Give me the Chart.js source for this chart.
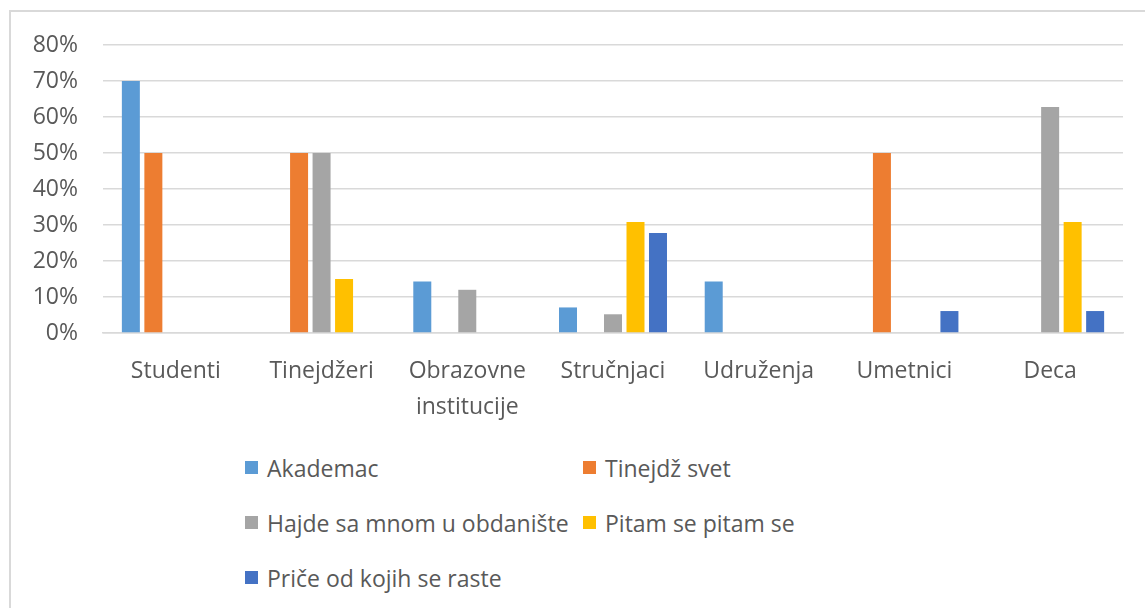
<!DOCTYPE html>
<html>
<head>
<meta charset="utf-8">
<script src="https://cdn.jsdelivr.net/npm/chart.js@4"></script>
<style>
  body { margin: 0; background: #fff; }
  #wrap { position: relative; width: 1145px; height: 608px; overflow: hidden; font-family: "Open Sans", sans-serif; color: #595959; }
  #frame { position: absolute; left: 9px; top: 10px; width: 1200px; height: 700px; border-left: 2px solid #d9d9d9; border-top: 2px solid #d9d9d9; }
  #chartBox { position: absolute; left: 0; top: 0; width: 1145px; height: 440px; }
  #legend { position: absolute; left: 245px; top: 440px; display: grid; grid-template-columns: 338px 300px; grid-auto-rows: 55px; font-size: 23px; }
  .item { display: flex; align-items: center; white-space: nowrap; }
  .box { width: 13px; height: 13px; margin-right: 9px; }
</style>
</head>
<body>
<div id="wrap">
  <div id="frame"></div>
  <div id="chartBox"><canvas id="barChart"></canvas></div>
  <div id="legend"></div>
</div>
<script>
// data (percent)
const categories = ['Studenti', 'Tinejdžeri', ['Obrazovne', 'institucije'], 'Stručnjaci', 'Udruženja', 'Umetnici', 'Deca'];
const akademac = [70, 0, 14.3, 7.1, 14.3, 0, 0];
const tinejdzSvet = [50, 50, 0, 0, 0, 50, 0];
const hajdeSaMnom = [0, 50, 12, 5.2, 0, 0, 62.8];
const pitamSe = [0, 15, 0, 30.8, 0, 0, 30.8];
const priceOdKojih = [0, 0, 0, 27.8, 0, 6.1, 6.1];
const yTicks = [0, 10, 20, 30, 40, 50, 60, 70, 80];

const seriesNames = ['Akademac', 'Tinejdž svet', 'Hajde sa mnom u obdanište', 'Pitam se pitam se', 'Priče od kojih se raste'];
const seriesData = [akademac, tinejdzSvet, hajdeSaMnom, pitamSe, priceOdKojih];
const seriesColors = ['#5B9BD5', '#ED7D31', '#A5A5A5', '#FFC000', '#4472C4'];

const font = { family: '"Open Sans", sans-serif', size: 23 };

const ctx = document.getElementById('barChart').getContext('2d');
new Chart(ctx, {
    type: 'bar',
    data: {
        labels: categories,
        datasets: seriesNames.map((name, i) => ({
            label: name,
            data: seriesData[i],
            backgroundColor: seriesColors[i],
            borderWidth: 0,
            categoryPercentage: 0.772,
            barPercentage: 0.8
        }))
    },
    options: {
        responsive: true,
        maintainAspectRatio: false,
        animation: false,
        layout: { padding: { top: 45, right: 22, bottom: 0, left: 0 } },
        plugins: {
            legend: { display: false },
            tooltip: { enabled: false }
        },
        scales: {
            x: {
                grid: { display: false, drawTicks: false },
                border: { color: '#d9d9d9', width: 1.5 },
                ticks: { color: '#595959', font: { ...font, lineHeight: 1.55 }, padding: 21, maxRotation: 0, autoSkip: false },
                afterFit: s => { s.height = 107; }
            },
            y: {
                min: 0,
                max: 80,
                afterBuildTicks: s => { s.ticks = yTicks.map(v => ({ value: v })); },
                grid: { color: '#d9d9d9', lineWidth: 1.5, drawTicks: false },
                border: { display: false },
                ticks: { color: '#595959', font: font, padding: 25, callback: v => v + '%' },
                afterFit: s => { s.width = 103; }
            }
        }
    }
});

// legend in two columns like the original
const legendEl = document.getElementById('legend');
seriesNames.forEach((name, i) => {
    const item = document.createElement('div');
    item.className = 'item';
    const box = document.createElement('span');
    box.className = 'box';
    box.style.background = seriesColors[i];
    item.appendChild(box);
    item.appendChild(document.createTextNode(name));
    legendEl.appendChild(item);
});
</script>
</body>
</html>
